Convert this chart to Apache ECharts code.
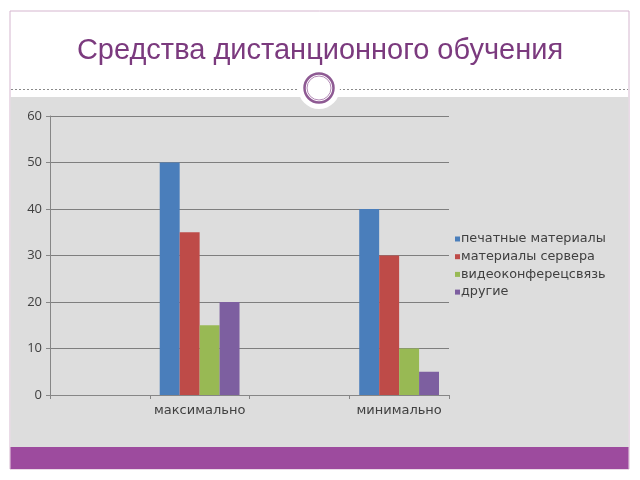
<!DOCTYPE html>
<html>
<head>
<meta charset="utf-8">
<script src="https://cdn.jsdelivr.net/npm/echarts@6/dist/echarts.min.js"></script>
<style>
html,body{margin:0;padding:0;background:#fff;}
#c{width:640px;height:480px;}
</style>
</head>
<body>
<div id="c"></div>
<script>
var title = 'Средства дистанционного обучения';
var categories = ['', 'максимально', '', 'минимально'];
var seriesNames = ['печатные материалы', 'материалы сервера', 'видеоконферецсвязь', 'другие'];
var printed = [null, 50, null, 40];
var server = [null, 35, null, 30];
var video = [null, 15, null, 10];
var other = [null, 20, null, 5];
var yTicks = [0, 10, 20, 30, 40, 50, 60];

var colors = ['#4a7ebb', '#be4b48', '#98b954', '#7d5fa0'];
var values = [printed, server, video, other];

var chart = echarts.init(document.getElementById('c'), null, {renderer: 'canvas'});
var option = {
  animation: false,
  color: colors,
  graphic: [
    {type: 'rect', z: -20, shape: {x: 10, y: 11, width: 619, height: 458}, style: {fill: '#ffffff', stroke: '#d5b6cf', lineWidth: 1}},
    {type: 'rect', z: -19, shape: {x: 10.5, y: 97, width: 618, height: 350}, style: {fill: '#dddddd'}},
    {type: 'rect', z: -19, shape: {x: 10.5, y: 447, width: 618, height: 22}, style: {fill: '#9d4b9e'}},
    {type: 'line', z: -18, shape: {x1: 11, y1: 89.5, x2: 628, y2: 89.5}, style: {stroke: '#8a8a8a', lineWidth: 1, lineDash: [2, 2]}},
    {type: 'circle', z: -17, shape: {cx: 319, cy: 88, r: 21}, style: {fill: '#ffffff'}},
    {type: 'circle', z: -16, shape: {cx: 319, cy: 88, r: 14.5}, style: {fill: '#ffffff', stroke: '#8e5a93', lineWidth: 2.5}},
    {type: 'circle', z: -15, shape: {cx: 319, cy: 88, r: 12}, style: {fill: 'none', stroke: '#b58cb8', lineWidth: 1}},
    {type: 'text', z: -15, style: {text: title, x: 320, y: 51, align: 'center', verticalAlign: 'middle', font: '29px "Liberation Sans", Arial, sans-serif', fill: '#7b3a7e'}}
  ],
  grid: {left: 50, right: 191, top: 116, bottom: 85, containLabel: false},
  legend: {
    orient: 'vertical',
    left: 450,
    top: 227,
    itemWidth: 5,
    itemHeight: 5,
    itemGap: 3.7,
    icon: 'rect',
    data: seriesNames,
    textStyle: {fontSize: 12.8, lineHeight: 14, color: '#404040', fontFamily: '"DejaVu Sans", sans-serif', padding: [0, 0, 0, -4]}
  },
  xAxis: {
    type: 'category',
    data: categories,
    axisLine: {lineStyle: {color: '#868686', width: 1}},
    axisTick: {show: true, interval: 0, length: 4, lineStyle: {color: '#868686'}},
    axisLabel: {interval: 0, color: '#404040', fontSize: 13, margin: 9, fontFamily: '"DejaVu Sans", sans-serif'}
  },
  yAxis: {
    type: 'value',
    min: 0,
    max: 60,
    interval: 10,
    axisLine: {show: true, lineStyle: {color: '#868686', width: 1}},
    axisTick: {show: true, length: 4, lineStyle: {color: '#868686'}},
    axisLabel: {color: '#404040', fontSize: 13, margin: 8, fontFamily: '"Open Sans", sans-serif',
      formatter: function (v) { return yTicks.indexOf(v) >= 0 ? String(v) : ''; }},
    splitLine: {show: true, lineStyle: {color: '#7e7e7e', width: 1}}
  },
  series: seriesNames.map(function (n, i) {
    return {
      name: n,
      type: 'bar',
      data: values[i],
      barGap: '0%',
      barCategoryGap: '20%',
      itemStyle: {color: colors[i]}
    };
  })
};
chart.setOption(option);
</script>
</body>
</html>
